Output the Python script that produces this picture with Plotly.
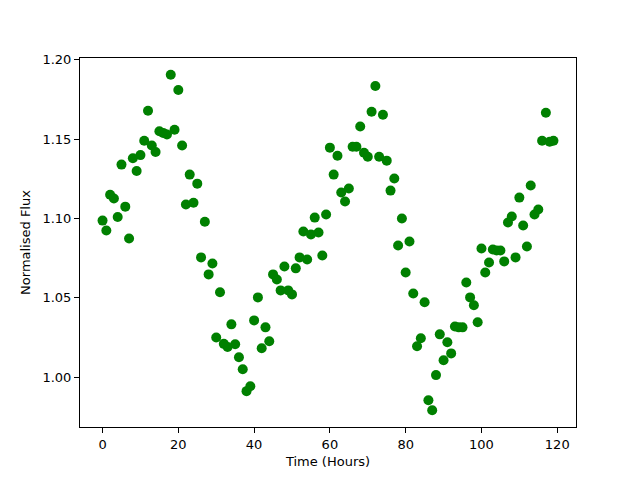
import plotly.graph_objects as go

time_hours = list(range(120))
flux = [
    1.0987, 1.0925, 1.1150, 1.1126, 1.1010, 1.1340, 1.1075, 1.0874, 1.1380, 1.1300,
    1.1400, 1.1490, 1.1680, 1.1460, 1.1420, 1.1550, 1.1540, 1.1530, 1.1906, 1.1560,
    1.1810, 1.1460, 1.1088, 1.1277, 1.1100, 1.1220, 1.0755, 1.0980, 1.0648, 1.0717,
    1.0250, 1.0535, 1.0210, 1.0190, 1.0333, 1.0208, 1.0126, 1.0050, 0.9912, 0.9943,
    1.0358, 1.0503, 1.0182, 1.0314, 1.0226, 1.0648, 1.0616, 1.0547, 1.0698, 1.0547,
    1.0522, 1.0686, 1.0755, 1.0918, 1.0742, 1.0900, 1.1006, 1.0912, 1.0767, 1.1025,
    1.1447, 1.1277, 1.1396, 1.1164, 1.1107, 1.1189, 1.1453, 1.1453, 1.1580, 1.1415,
    1.1390, 1.1673, 1.1836, 1.1390, 1.1654, 1.1365, 1.1176, 1.1252, 1.0830, 1.1000,
    1.0660, 1.0855, 1.0528, 1.0195, 1.0245, 1.0472, 0.9855, 0.9792, 1.0013, 1.0270,
    1.0107, 1.0220, 1.0150, 1.0320, 1.0314, 1.0314, 1.0597, 1.0503, 1.0453, 1.0346,
    1.0811, 1.0660, 1.0723, 1.0805, 1.0799, 1.0799, 1.0730, 1.0975, 1.1013, 1.0755,
    1.1132, 1.0956, 1.0824, 1.1208, 1.1025, 1.1057, 1.1490, 1.1667, 1.1484, 1.1490,
]
x_ticks = [0, 20, 40, 60, 80, 100, 120]
y_ticks = [1.00, 1.05, 1.10, 1.15, 1.20]

fig = go.Figure()
fig.add_trace(go.Scatter(
    x=time_hours, y=flux, mode="markers",
    marker=dict(color="#008000", size=10, line=dict(width=0)),
    showlegend=False,
))

axis_common = dict(
    showgrid=False, zeroline=False, showline=True, linecolor="black", linewidth=1,
    mirror=True, ticks="outside", ticklen=5, tickwidth=1, tickcolor="black",
    tickfont=dict(family="DejaVu Sans", size=13, color="black"),
)
title_font = dict(family="DejaVu Sans", size=13, color="black")
fig.update_layout(
    width=632, height=472,
    margin=dict(l=72, r=64, t=50, b=53),
    paper_bgcolor="white", plot_bgcolor="white",
    font=dict(family="DejaVu Sans", size=13, color="black"),
    xaxis=dict(range=[-5.95, 124.95], tickvals=x_ticks,
               title=dict(text="Time (Hours)", standoff=6, font=title_font), **axis_common),
    yaxis=dict(range=[0.9686, 1.2012], tickvals=y_ticks, tickformat=".2f",
               title=dict(text="Normalised Flux", standoff=8, font=title_font), **axis_common),
)
fig.write_html("out.html")
